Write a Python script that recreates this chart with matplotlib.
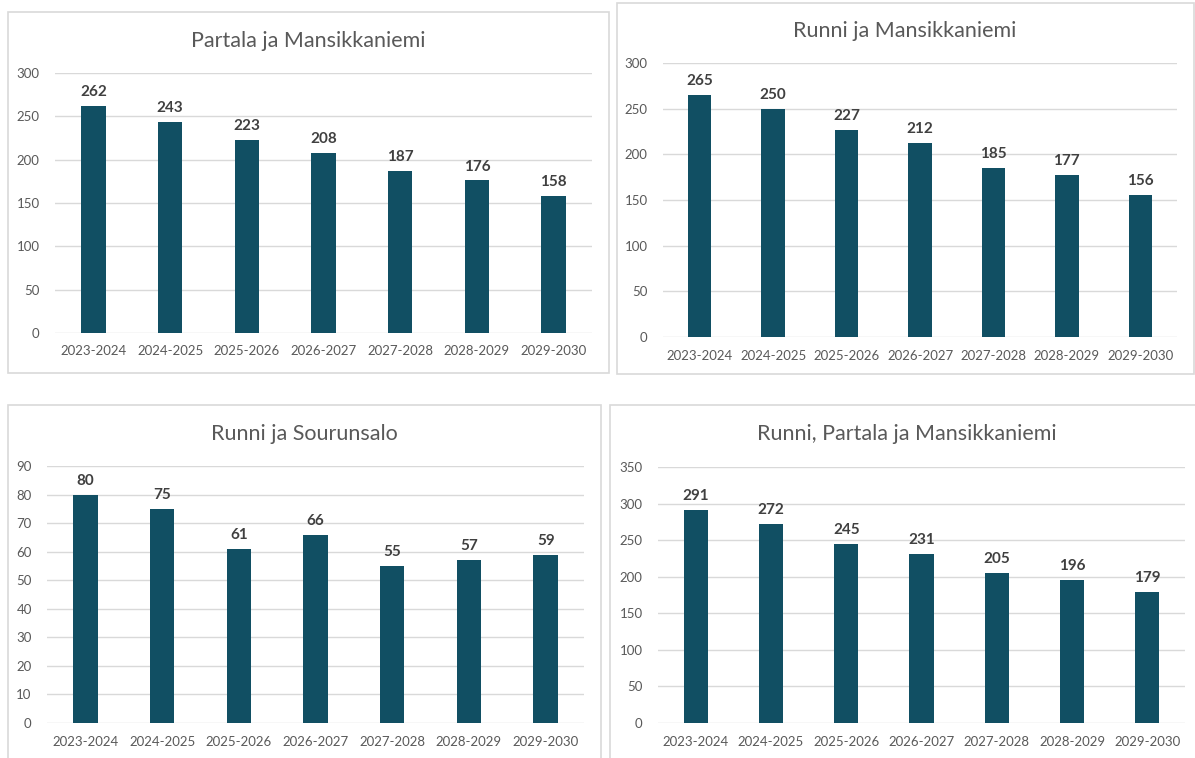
import matplotlib
matplotlib.use("Agg")
import matplotlib.pyplot as plt
from matplotlib.patches import Rectangle

# kausien nimet (x-akseli)
kaudet = ['2023-2024', '2024-2025', '2025-2026', '2026-2027',
          '2027-2028', '2028-2029', '2029-2030']

partala_mansikkaniemi = [262, 243, 223, 208, 187, 176, 158]
runni_mansikkaniemi = [265, 250, 227, 212, 185, 177, 156]
runni_sourunsalo = [80, 75, 61, 66, 55, 57, 59]
runni_partala_mansikkaniemi = [291, 272, 245, 231, 205, 196, 179]

otsikot = ['Partala ja Mansikkaniemi', 'Runni ja Mansikkaniemi',
           'Runni ja Sourunsalo', 'Runni, Partala ja Mansikkaniemi']
sarjat = [partala_mansikkaniemi, runni_mansikkaniemi,
          runni_sourunsalo, runni_partala_mansikkaniemi]
y_max = [300, 300, 90, 350]
y_step = [50, 50, 10, 50]

W, H = 1195, 758
plt.rcParams['font.family'] = ['Lato', 'DejaVu Sans']

fig = plt.figure(figsize=(W / 100, H / 100), dpi=100)

# laatikot (pikseleinä: vasen, ylä, oikea, ala)
laatikot = [(8, 12, 609, 373), (617, 3, 1194, 374),
            (8, 405, 601, 770), (610, 405, 1205, 770)]
# piirtoalueet (vasen, ylä, oikea, ala)
alueet = [(55, 73, 592, 333), (663, 63, 1177, 337),
          (47, 466, 584, 723), (658, 467, 1185, 723)]
otsikko_pos = [(308, 41), (905, 31), (304, 434), (907, 434)]

vari = '#114F63'
harmaa = '#595959'

for i in range(4):
    l, t, r, b = laatikot[i]
    fig.patches.append(Rectangle((l / W, 1 - b / H), (r - l) / W, (b - t) / H,
                                 transform=fig.transFigure, fill=False,
                                 edgecolor='#D9D9D9', linewidth=1.2))

    l, t, r, b = alueet[i]
    ax = fig.add_axes([l / W, 1 - b / H, (r - l) / W, (b - t) / H])
    x = range(len(kaudet))
    palkit = ax.bar(x, sarjat[i], width=0.32, color=vari, zorder=3)
    for p, v in zip(palkit, sarjat[i]):
        ax.annotate(str(v), (p.get_x() + p.get_width() / 2, v),
                    xytext=(0, 5), textcoords='offset points',
                    ha='center', va='bottom', fontsize=11,
                    fontweight='bold', color='#404040')
    ax.set_xlim(-0.5, len(kaudet) - 0.5)
    ax.set_ylim(0, y_max[i])
    ax.set_yticks(range(0, y_max[i] + 1, y_step[i]))
    ax.set_xticks(list(x))
    ax.set_xticklabels(kaudet)
    ax.tick_params(axis='both', length=0, labelsize=9.5, colors=harmaa)
    ax.tick_params(axis='y', pad=11)
    ax.tick_params(axis='x', pad=9)
    ax.grid(axis='y', color='#D9D9D9', linewidth=1, zorder=0)
    ax.set_axisbelow(True)
    for s in ax.spines.values():
        s.set_visible(False)
    ax.patch.set_alpha(0)

    tx, ty = otsikko_pos[i]
    fig.text(tx / W, 1 - ty / H, otsikot[i], ha='center', va='center',
             fontsize=15.5, color=harmaa)

fig.savefig('out.png', dpi=100)
